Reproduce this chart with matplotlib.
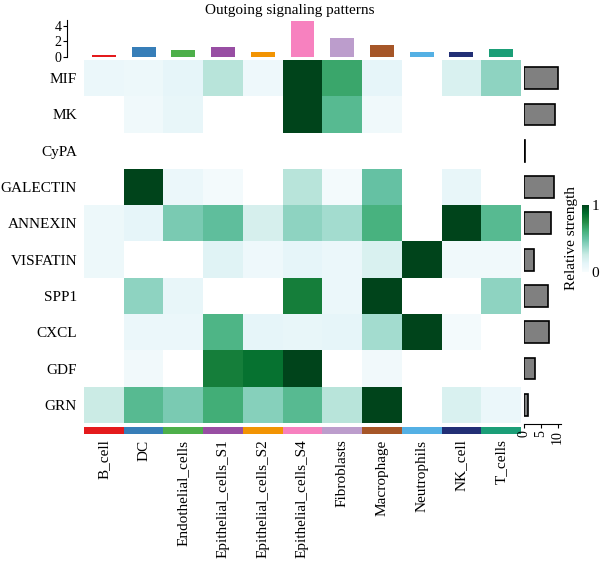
import numpy as np
import matplotlib
matplotlib.use('Agg')
import matplotlib.pyplot as plt
from matplotlib.colors import ListedColormap

plt.rcParams['font.family'] = ['Liberation Serif']

cell_types = ['B_cell', 'DC', 'Endothelial_cells', 'Epithelial_cells_S1',
              'Epithelial_cells_S2', 'Epithelial_cells_S4', 'Fibroblasts',
              'Macrophage', 'Neutrophils', 'NK_cell', 'T_cells']
pathways = ['MIF', 'MK', 'CyPA', 'GALECTIN', 'ANNEXIN', 'VISFATIN',
            'SPP1', 'CXCL', 'GDF', 'GRN']
cell_colors = ['#E41A1C', '#377EB8', '#4DAF4A', '#984EA3', '#F29403',
               '#F781BF', '#BC9DCC', '#A65628', '#54B0E4', '#222F75', '#1B9E77']

# relative strength per pathway (rows) and sender cell type (cols)
mif      = [0.08, 0.07, 0.12, 0.30, 0.06, 1.00, 0.65, 0.12, 0.00, 0.18, 0.40]
mk       = [0.00, 0.05, 0.10, 0.00, 0.00, 1.00, 0.55, 0.05, 0.00, 0.00, 0.00]
cypa     = [0.00, 0.00, 0.00, 0.00, 0.00, 0.00, 0.00, 0.00, 0.00, 0.00, 0.00]
galectin = [0.00, 1.00, 0.08, 0.03, 0.00, 0.30, 0.03, 0.50, 0.00, 0.10, 0.00]
annexin  = [0.07, 0.12, 0.45, 0.52, 0.20, 0.40, 0.35, 0.60, 0.00, 1.00, 0.55]
visfatin = [0.07, 0.00, 0.00, 0.15, 0.06, 0.12, 0.08, 0.18, 1.00, 0.05, 0.05]
spp1     = [0.00, 0.40, 0.10, 0.00, 0.00, 0.80, 0.08, 1.00, 0.00, 0.00, 0.40]
cxcl     = [0.00, 0.08, 0.08, 0.58, 0.12, 0.10, 0.12, 0.35, 1.00, 0.03, 0.00]
gdf      = [0.00, 0.04, 0.00, 0.80, 0.85, 1.00, 0.00, 0.04, 0.00, 0.00, 0.00]
grn      = [0.25, 0.55, 0.45, 0.62, 0.42, 0.55, 0.30, 1.00, 0.00, 0.18, 0.08]

col_totals = [0.3, 1.3, 0.9, 1.3, 0.7, 4.6, 2.4, 1.6, 0.7, 0.7, 1.0]
row_totals = [10.1, 9.3, 0.2, 8.8, 8.1, 3.1, 7.0, 7.3, 3.3, 1.3]

mat = np.array([mif, mk, cypa, galectin, annexin, visfatin, spp1, cxcl, gdf, grn])
nr, nc = mat.shape

fig = plt.figure(figsize=(6, 5.65), dpi=100)

W, H = 600., 565.
def box(x0, y0, x1, y1):
    return [x0 / W, 1 - y1 / H, (x1 - x0) / W, (y1 - y0) / H]

hx0, hx1, hy0, hy1 = 84, 521, 60, 423
fs = 11

# heatmap, zero cells left white
ax = fig.add_axes(box(hx0, hy0, hx1, hy1))
cmap = plt.get_cmap('BuGn').copy()
cmap.set_bad('white')
im = ax.imshow(np.ma.masked_equal(mat, 0), cmap=cmap, vmin=0, vmax=1,
               aspect='auto', interpolation='nearest')
ax.set_yticks(range(nr))
ax.set_yticklabels(pathways, fontsize=fs)
ax.set_xticks([])
ax.tick_params(axis='y', length=0, pad=5)
for s in ax.spines.values():
    s.set_visible(False)

# color strip
ax_s = fig.add_axes(box(hx0, 427, hx1, 434))
ax_s.imshow(np.arange(nc)[None, :], cmap=ListedColormap(cell_colors), aspect='auto')
ax_s.set_yticks([])
ax_s.set_xticks(range(nc))
ax_s.set_xticklabels(cell_types, rotation=90, fontsize=fs)
ax_s.tick_params(axis='x', length=0, pad=4)
for s in ax_s.spines.values():
    s.set_visible(False)

# top bars
ax_t = fig.add_axes(box(hx0, 20, hx1, 57))
ax_t.bar(range(nc), col_totals, width=0.6, color=cell_colors)
ax_t.set_xlim(-0.5, nc - 0.5)
ax_t.set_ylim(0, 4.75)
ax_t.set_yticks([0, 2, 4])
ax_t.tick_params(axis='y', labelsize=10, length=3, pad=1)
ax_t.set_xticks([])
for k in ['top', 'right', 'bottom']:
    ax_t.spines[k].set_visible(False)
ax_t.spines['left'].set_position(('outward', 12))
ax_t.set_title('Outgoing signaling patterns', fontsize=fs, pad=4, x=0.47)

# right bars
ax_r = fig.add_axes(box(524, hy0, 561, hy1))
ax_r.barh(range(nr), row_totals, height=0.6, color='#808080', edgecolor='black', linewidth=1.2)
ax_r.set_ylim(nr - 0.5, -0.5)
ax_r.set_xlim(0, 11)
ax_r.set_xticks([0, 5, 10])
ax_r.tick_params(axis='x', labelsize=10, length=3, pad=1, labelrotation=90)
ax_r.set_yticks([])
for k in ['top', 'right', 'left']:
    ax_r.spines[k].set_visible(False)
ax_r.spines['bottom'].set_position(('outward', 1))

# colorbar
cax = fig.add_axes(box(582, 205, 589, 272))
cb = fig.colorbar(im, cax=cax, ticks=[0, 1])
cb.outline.set_visible(False)
cax.tick_params(length=0, labelsize=fs, pad=2)
cax.yaxis.set_label_position('left')
cb.set_label('Relative strength', fontsize=fs, labelpad=3)

fig.savefig('out.png', dpi=100)
